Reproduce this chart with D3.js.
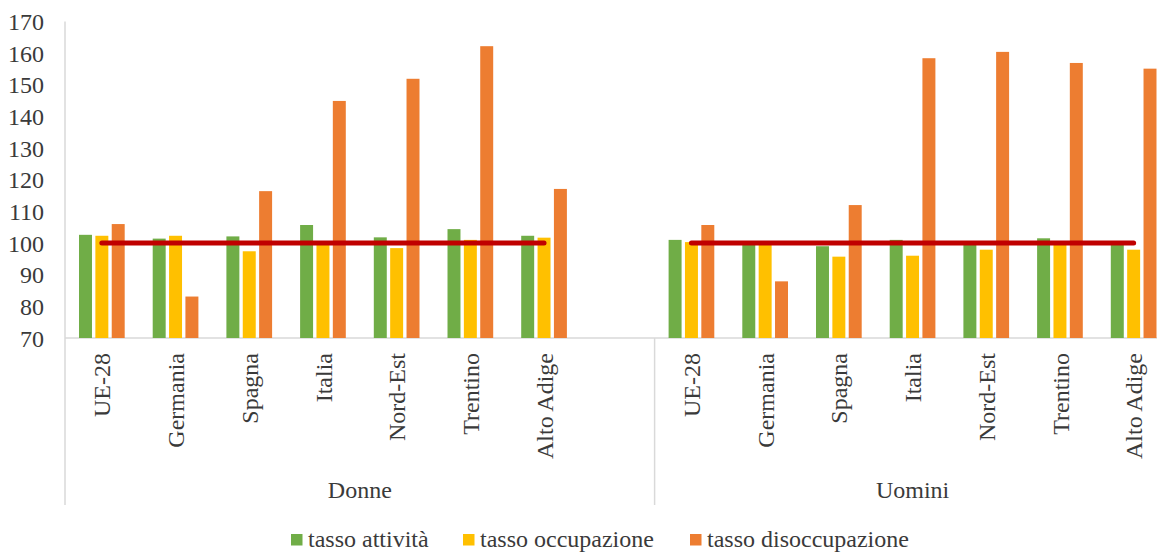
<!DOCTYPE html>
<html>
<head>
<meta charset="utf-8">
<script src="https://cdn.jsdelivr.net/npm/d3@7"></script>
<style>
  html, body { margin: 0; padding: 0; background: #fff; }
  svg { display: block; }
</style>
</head>
<body>
<script>
// ---- data ----
const categories = ["UE-28", "Germania", "Spagna", "Italia", "Nord-Est", "Trentino", "Alto Adige"];
const groups = ["Donne", "Uomini"];
const seriesNames = ["tasso attività", "tasso occupazione", "tasso disoccupazione"];
const seriesColors = ["#70AD47", "#FFC000", "#ED7D31"];

const attivitaDonne = [102.6, 101.4, 102.1, 105.7, 101.8, 104.4, 102.3];
const occupazioneDonne = [102.3, 102.3, 97.4, 99.7, 98.4, 101.0, 101.7];
const disoccupazioneDonne = [106.0, 83.1, 116.4, 144.9, 151.9, 162.2, 117.1];

const attivitaUomini = [101.0, 99.8, 99.0, 101.0, 99.8, 101.5, 99.7];
const occupazioneUomini = [100.3, 99.9, 95.7, 96.0, 97.9, 99.8, 97.9];
const disoccupazioneUomini = [105.7, 87.9, 112.0, 158.4, 160.4, 156.9, 155.1];

const riferimentoDonne = [100, 100, 100, 100, 100, 100, 100];
const riferimentoUomini = [100, 100, 100, 100, 100, 100, 100];

const yTicks = [70, 80, 90, 100, 110, 120, 130, 140, 150, 160, 170];

// ---- layout ----
const W = 1157, H = 552;
const plotLeft = 65, plotRight = 1170.5;
const yBottom = 338, yTop = 21.5;
const textColor = "#3a3a3a";
const axisColor = "#d9d9d9";
const fontSize = 24;
const FONT = '"Liberation Serif"';

const svg = d3.select("body").append("svg").attr("width", W).attr("height", H);

function styleText(sel) {
  return sel.style("font-family", FONT).style("font-size", fontSize + "px").attr("fill", textColor);
}

// slots: Donne has 7 categories + 1 empty slot, Uomini has 7
const slots = [];
groups.forEach((g, gi) => {
  categories.forEach(c => slots.push(g + "|" + c));
  if (gi === 0) slots.push(g + "|_empty");
});

const x0 = d3.scaleBand().domain(slots).range([plotLeft, plotRight]).padding(0);
const bw = x0.bandwidth();
const x1 = d3.scaleBand().domain(seriesNames)
  .range([bw * 0.19, bw * 0.81]).paddingInner(0.207).paddingOuter(0);
const y = d3.scaleLinear().domain([70, 170]).range([yBottom, yTop]);

// build records
const table = [];
const bySeries = {
  Donne: [attivitaDonne, occupazioneDonne, disoccupazioneDonne],
  Uomini: [attivitaUomini, occupazioneUomini, disoccupazioneUomini]
};
groups.forEach(g => {
  categories.forEach((c, ci) => {
    seriesNames.forEach((s, si) => {
      table.push({ slot: g + "|" + c, series: s, si, value: bySeries[g][si][ci] });
    });
  });
});

// y axis (labels only)
const yAxis = d3.axisLeft(y).tickValues(yTicks).tickSize(0).tickPadding(0);
const gy = svg.append("g").attr("transform", `translate(${plotLeft},0)`).call(yAxis);
gy.attr("font-family", null).attr("font-size", null);
gy.select(".domain").remove();
styleText(gy.selectAll("text"))
  .attr("x", -21)
  .attr("dy", "0.34em");

// value axis line
svg.append("line")
  .attr("x1", plotLeft).attr("x2", plotLeft)
  .attr("y1", y(170)).attr("y2", 505)
  .attr("stroke", axisColor).attr("stroke-width", 1.5);

// category axis line
svg.append("line")
  .attr("x1", plotLeft).attr("x2", plotRight)
  .attr("y1", yBottom).attr("y2", yBottom)
  .attr("stroke", axisColor).attr("stroke-width", 1.5);

// group divider
const dividerX = x0(groups[1] + "|" + categories[0]);
[dividerX, plotRight].forEach(xx => {
  svg.append("line")
    .attr("x1", xx).attr("x2", xx)
    .attr("y1", yBottom).attr("y2", 505)
    .attr("stroke", axisColor).attr("stroke-width", 1.5);
});

// bars
svg.append("g").selectAll("rect").data(table).join("rect")
  .attr("x", d => x0(d.slot) + x1(d.series))
  .attr("width", x1.bandwidth())
  .attr("y", d => y(d.value))
  .attr("height", d => y(70) - y(d.value))
  .attr("fill", d => seriesColors[d.si]);

// reference line at 100
const line = d3.line()
  .x(d => x0(d.slot) + bw / 2)
  .y(d => y(d.v));
[["Donne", riferimentoDonne], ["Uomini", riferimentoUomini]].forEach(([g, arr]) => {
  const pts = arr.map((v, i) => ({ slot: g + "|" + categories[i], v }));
  svg.append("path")
    .attr("d", line(pts))
    .attr("fill", "none")
    .attr("stroke", "#C00000")
    .attr("stroke-width", 5)
    .attr("stroke-linecap", "round");
});

// category labels (rotated)
groups.forEach(g => {
  categories.forEach(c => {
    const cx = x0(g + "|" + c) + bw / 2;
    styleText(svg.append("text"))
      .attr("transform", `translate(${cx},353) rotate(-90)`)
      .attr("text-anchor", "end")
      .attr("dy", "0.36em")
      .text(c);
  });
});

// group labels
groups.forEach((g, gi) => {
  const start = gi === 0 ? plotLeft : dividerX;
  const end = gi === 0 ? dividerX : plotRight;
  styleText(svg.append("text"))
    .attr("x", (start + end) / 2)
    .attr("y", 498)
    .attr("text-anchor", "middle")
    .text(g);
});

// legend
const legendX = [291, 463, 690];
const legend = svg.append("g");
seriesNames.forEach((s, i) => {
  legend.append("rect")
    .attr("x", legendX[i]).attr("y", 534)
    .attr("width", 11.5).attr("height", 11.5)
    .attr("fill", seriesColors[i]);
  styleText(legend.append("text"))
    .attr("x", legendX[i] + 17)
    .attr("y", 546.5)
    .text(s);
});
</script>
</body>
</html>
